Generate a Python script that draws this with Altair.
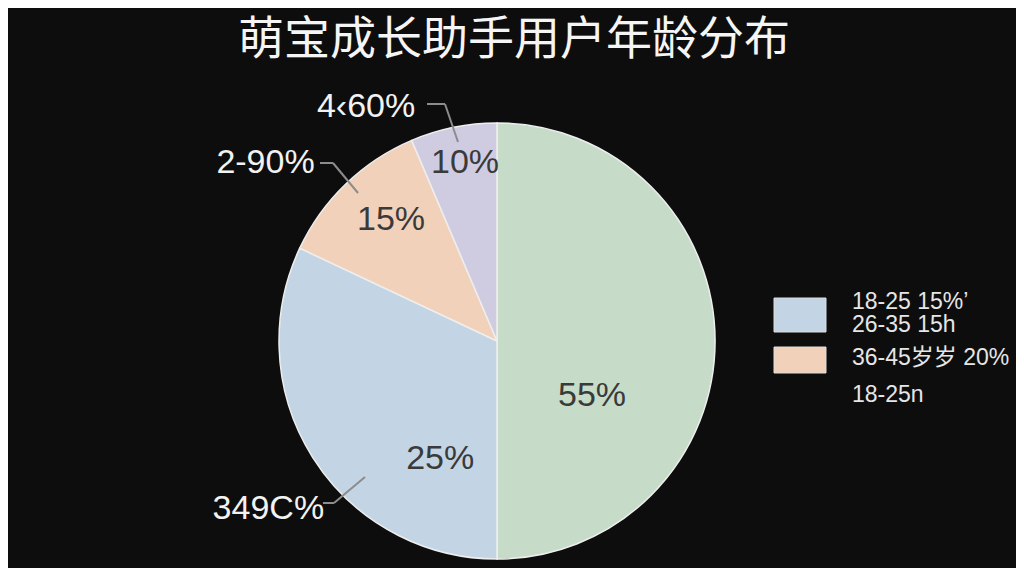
import altair as alt
import pandas as pd

title = "萌宝成长助手用户年龄分布"
cats = ["26-35岁", "18-25岁", "36-45岁", "46岁以上"]
values = [50, 32, 11.6, 6.4]
inner_labels = ["55%", "25%", "15%", "10%"]
outer_labels = ["", "349C%", "2-90%", "4‹60%"]
colors = ["#c6dcc9", "#c3d5e4", "#f2d1ba", "#cfcce1"]
legend_lines = ["18-25 15%’", "26-35 15h", "36-45岁岁 20%", "18-25n"]
legend_swatch_colors = ["#c3d5e4", "#f2d1ba"]

W, H = 1008, 560
CX, CY, R = 489, 333, 218
FONT = "Liberation Sans, Noto Sans CJK SC"

df = pd.DataFrame({
    "cat": cats,
    "value": values,
    "inner": inner_labels,
    "outer": outer_labels,
    "idx": list(range(len(cats))),
})

theta_scale = alt.Scale(domain=[0, 100])
color_scale = alt.Scale(domain=cats, range=colors)

base = alt.Chart(df)

pie = base.mark_arc(radius=R, stroke="#eeeeee", strokeWidth=1.5).encode(
    theta=alt.Theta("value:Q", stack=True, scale=theta_scale),
    order=alt.Order("idx:Q"),
    color=alt.Color("cat:N", scale=color_scale, legend=None),
    x=alt.value(CX),
    y=alt.value(CY),
)

mid_base = base.transform_window(
    cum="sum(value)", sort=[alt.SortField("idx")], frame=[None, 0]
).transform_calculate(mid="datum.cum - datum.value / 2")

# (radius, dx, dy) label placement styles per slice
inner_style = [(120, -25, 55), (130, 53, 48), (160, 5, -6), (180, 4, -2)]
outer_style = [None, (240, -26, 39), (240, -65, -5), (240, -83, 1)]

layers = [pie]
for i in range(len(cats)):
    r, dx, dy = inner_style[i]
    layers.append(
        mid_base.transform_filter(alt.datum.idx == i).mark_text(
            radius=r, dx=dx, dy=dy, fontSize=34, font=FONT, color="#3a3a3a",
            align="center", baseline="middle",
        ).encode(
            theta=alt.Theta("mid:Q", stack=None, scale=theta_scale),
            text="inner:N",
            x=alt.value(CX),
            y=alt.value(CY),
        )
    )
    if outer_style[i] is not None:
        r, dx, dy = outer_style[i]
        layers.append(
            mid_base.transform_filter(alt.datum.idx == i).mark_text(
                radius=r, dx=dx, dy=dy, fontSize=34, font=FONT, color="#f2f2f2",
                align="center", baseline="middle",
            ).encode(
                theta=alt.Theta("mid:Q", stack=None, scale=theta_scale),
                text="outer:N",
                x=alt.value(CX),
                y=alt.value(CY),
            )
        )

# leader lines (decorative connectors)
segments = [
    (419, 96, 437, 96), (437, 96, 450, 134),
    (312, 155, 325, 155), (325, 155, 350, 185),
    (315, 495, 326, 495), (326, 495, 357, 469),
]
dummy = pd.DataFrame({"d": [0]})
for (x1, y1, x2, y2) in segments:
    layers.append(
        alt.Chart(dummy).mark_rule(color="#8c8c8c", strokeWidth=2).encode(
            x=alt.value(x1), y=alt.value(y1), x2=alt.value(x2), y2=alt.value(y2)
        )
    )

# title
layers.append(
    alt.Chart(pd.DataFrame({"t": [title]})).mark_text(
        fontSize=46, font="Noto Sans CJK SC", color="#f5f5f5",
        align="center", baseline="middle",
    ).encode(text="t:N", x=alt.value(506), y=alt.value(32))
)

# manual legend
swatch_boxes = [(766, 290, 818, 324), (766, 339, 818, 365)]
for (x1, y1, x2, y2), c in zip(swatch_boxes, legend_swatch_colors):
    layers.append(
        alt.Chart(dummy).mark_rect(color=c, stroke="#dddddd", strokeWidth=1).encode(
            x=alt.value(x1), y=alt.value(y1), x2=alt.value(x2), y2=alt.value(y2)
        )
    )
legend_y = [294, 317, 350, 387]
for txt, ly in zip(legend_lines, legend_y):
    layers.append(
        alt.Chart(pd.DataFrame({"t": [txt]})).mark_text(
            fontSize=23, font=FONT, color="#e6e6e6", align="left", baseline="middle",
        ).encode(text="t:N", x=alt.value(844), y=alt.value(ly))
    )

chart = alt.layer(*layers).properties(
    width=W, height=H,
    autosize=alt.AutoSizeParams(type="none"),
    padding=0,
    background="#0d0d0d",
).configure_view(stroke=None)

chart.save("out.html", embed_options={"renderer": "svg", "actions": False})
